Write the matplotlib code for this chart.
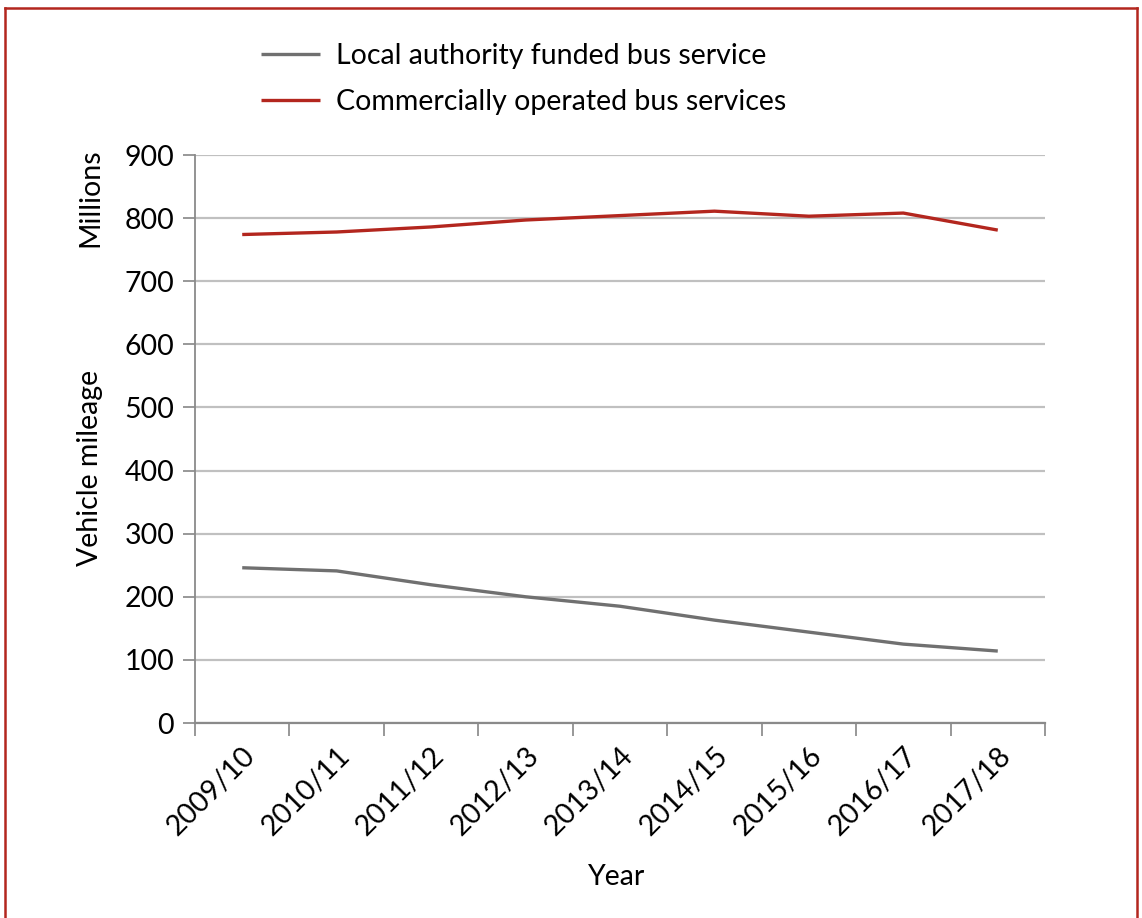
import matplotlib
matplotlib.use("Agg")
import matplotlib.pyplot as plt
from matplotlib.lines import Line2D
import numpy as np

years = ["2009/10", "2010/11", "2011/12", "2012/13", "2013/14",
         "2014/15", "2015/16", "2016/17", "2017/18"]
local_funded = [246, 241, 219, 200, 185, 163, 144, 125, 114]
commercial = [774, 778, 786, 797, 804, 811, 803, 808, 781]
yticks = [0, 100, 200, 300, 400, 500, 600, 700, 800, 900]

plt.rcParams['font.family'] = ['Lato', 'DejaVu Sans']
FS = 20.5

fig = plt.figure(figsize=(11.42, 9.18), dpi=100)
ax = fig.add_axes([195/1142, 1-723/918, 850/1142, 568/918])

x = np.arange(len(years)) + 0.5
gray = '#707070'
red = '#b3261e'
ax.plot(x, local_funded, color=gray, lw=2.4, solid_capstyle='butt', label='Local authority funded bus service')
ax.plot(x, commercial, color=red, lw=2.4, solid_capstyle='butt', label='Commercially operated bus services')

ax.set_xlim(0, len(years))
ax.set_ylim(0, 900)
ax.set_yticks(yticks)
ax.yaxis.grid(True, color='#c0c0c0', lw=1.6)
ax.set_axisbelow(True)

ax.set_xticks(x)
ax.set_xticklabels(years, rotation=45, ha='right', rotation_mode='anchor', fontsize=FS)
ax.set_xticks(np.arange(len(years)+1), minor=True)
ax.tick_params(axis='x', which='major', length=0, pad=14)
ax.tick_params(axis='x', which='minor', length=9, width=1.3, color='#909090')
ax.tick_params(axis='y', length=9, width=1.3, color='#909090', labelsize=FS, pad=6)

for s in ['top', 'right']:
    ax.spines[s].set_visible(False)
ax.spines['left'].set_color('#8a8a8a')
ax.spines['left'].set_linewidth(1.3)
ax.spines['bottom'].set_color('#8a8a8a')
ax.spines['bottom'].set_linewidth(1.6)

fig.text(90/1142, 1-468/918, 'Vehicle mileage', rotation=90, ha='center', va='center', fontsize=FS)
fig.text(90/1142, 1-198/918, 'Millions', rotation=90, ha='center', va='center', fontsize=FS)
fig.text(617/1142, 1-877/918, 'Year', ha='center', va='center', fontsize=FS)

fig.legend(loc='upper left', bbox_to_anchor=(235/1142, 1-17/918), frameon=False,
           fontsize=FS, handlelength=2.1, handletextpad=0.55, labelspacing=0.72)

# red frame
for coords in [([5/1142, 1137/1142], [1-8/918, 1-8/918]),
               ([5/1142, 5/1142], [0, 1-8/918]),
               ([1137/1142, 1137/1142], [0, 1-8/918])]:
    fig.add_artist(Line2D(coords[0], coords[1], color='#b3261e', lw=1.8, transform=fig.transFigure))

fig.savefig('out.png', dpi=100)
